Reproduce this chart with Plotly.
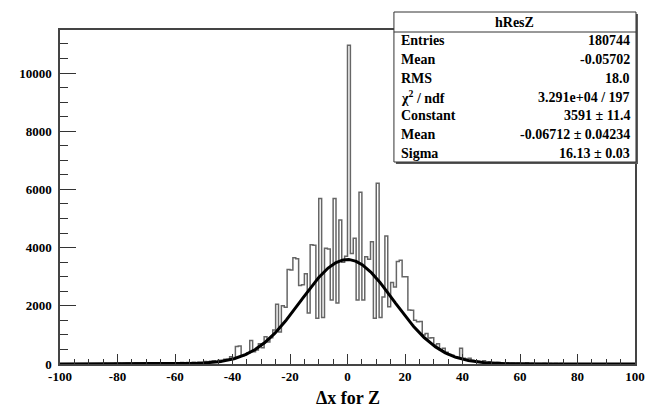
import plotly.graph_objects as go
import numpy as np

# ---- data ----
bin_low_edges = list(range(-100, 100))  # 200 bins of width 1
counts = [
    # -100 .. -61
    3, 5, 2, 8, 4, 6, 3, 10, 5, 7, 4, 9, 12, 6, 8, 15, 7, 11, 9, 14,
    18, 10, 13, 22, 16, 12, 25, 19, 14, 28, 21, 17, 30, 24, 20, 35, 26, 31, 22, 38,
    # -60 .. -46
    42, 30, 48, 36, 55, 40, 62, 50, 70, 58, 85, 66, 95, 110, 80,
    # -45 .. -31
    130, 105, 160, 140, 250, 190, 600, 620, 280, 330, 380, 810, 420, 480, 700,
    # -30 .. -1
    560, 940, 760, 900, 1170, 2050, 1100, 2000, 1950, 3250,
    3230, 3650, 3620, 2700, 2720, 3100, 1750, 4100, 4080, 1570,
    5690, 1600, 3980, 3950, 2200, 5690, 2100, 4950, 3500, 3700,
    # 0 .. 49
    10960, 3800, 4320, 2200, 5900, 2200, 3690, 3600, 4200, 1570,
    6210, 1600, 2300, 4400, 1970, 2800, 2650, 3520, 3570, 3000,
    3000, 1860, 1850, 1500, 1450, 1460, 1000, 1050, 890, 900,
    650, 700, 480, 540, 400, 330, 300, 250, 220, 540,
    200, 170, 200, 130, 110, 95, 70, 110, 60, 75,
    # 50 .. 99
    55, 48, 62, 40, 35, 46, 30, 38, 26, 33, 22, 28, 40, 19, 24, 17, 21, 15, 30, 13,
    18, 11, 16, 10, 14, 8, 12, 9, 7, 11, 6, 9, 5, 8, 4, 7, 3, 6, 5, 4,
    3, 6, 2, 4, 3, 5, 2, 3, 1, 2,
]
bin_width = 1

# fit parameters (from stats box)
fit_constant = 3591
fit_mean = -0.06712
fit_sigma = 16.13

stats_title = "hResZ"
stats_labels = ["Entries", "Mean", "RMS", "χ<sup>2</sup> / ndf", "Constant", "Mean", "Sigma"]
stats_values = ["180744", "-0.05702", "18.0", "3.291e+04 / 197", "3591 ± 11.4",
                "-0.06712 ± 0.04234", "16.13 ± 0.03"]

x_tick_vals = [-100, -80, -60, -40, -20, 0, 20, 40, 60, 80, 100]
x_tick_text = ["-100", "-80", "-60", "-40", "-20", "0", "20", "40", "60", "80", "100"]
y_tick_vals = [0, 2000, 4000, 6000, 8000, 10000]
y_tick_text = ["0", "2000", "4000", "6000", "8000", "10000"]

# ---- figure ----
W, H = 657, 409
ml, mr, mt, mb = 60, 15, 30, 45
pw, ph = W - ml - mr, H - mt - mb

edges = bin_low_edges + [bin_low_edges[-1] + bin_width]
step_y = counts + [counts[-1]]

fig = go.Figure()
fig.add_trace(go.Scatter(x=edges, y=step_y, mode="lines", line=dict(shape="hv", color="#666666", width=1.5),
                         hoverinfo="skip"))

xf = np.linspace(-100, 100, 801)
yf = fit_constant * np.exp(-0.5 * ((xf - fit_mean) / fit_sigma) ** 2)
fig.add_trace(go.Scatter(x=xf, y=yf, mode="lines", line=dict(color="black", width=3), hoverinfo="skip"))

tickfont = dict(family="Liberation Serif", size=13, color="black", weight="bold")
fig.update_xaxes(range=[-100, 100], tickvals=x_tick_vals, ticktext=x_tick_text, ticks="inside", ticklen=10,
                 tickwidth=1, tickcolor="#333", showline=True, mirror=True, linecolor="#444", linewidth=1.5,
                 showgrid=False, zeroline=False, tickfont=tickfont,
                 minor=dict(dtick=5, ticks="inside", ticklen=5, tickcolor="#333", showgrid=False))
fig.update_yaxes(range=[0, 11480], tickvals=y_tick_vals, ticktext=y_tick_text, ticks="inside", ticklen=16,
                 tickwidth=1, tickcolor="#333", showline=True, mirror=True, linecolor="#444", linewidth=1.5,
                 showgrid=False, zeroline=False, tickfont=tickfont, ticklabelstandoff=4,
                 minor=dict(dtick=500, ticks="inside", ticklen=8, tickcolor="#333", showgrid=False))

def px_x(p):
    return (p - ml) / pw

def px_y(p):
    return (H - mb - p) / ph

shapes = []
bx0, bx1, by0, by1 = 398, 643, 162, 12
shapes.append(dict(type="rect", xref="paper", yref="paper", x0=px_x(bx0 + 2), x1=px_x(bx1 + 2),
                   y0=px_y(by0 + 2), y1=px_y(by1 + 2), fillcolor="#555", line=dict(width=0), layer="above"))
shapes.append(dict(type="rect", xref="paper", yref="paper", x0=px_x(bx0), x1=px_x(bx1),
                   y0=px_y(by0), y1=px_y(by1), fillcolor="white", line=dict(color="#333", width=1),
                   layer="above"))
shapes.append(dict(type="line", xref="paper", yref="paper", x0=px_x(bx0), x1=px_x(bx1),
                   y0=px_y(32), y1=px_y(32), line=dict(color="#333", width=1), layer="above"))

annotations = []
sfont = dict(family="Liberation Serif", size=14, color="black", weight="bold")
annotations.append(dict(text=stats_title, xref="paper", yref="paper", x=px_x((bx0 + bx1) / 2), y=px_y(22),
                        xanchor="center", yanchor="middle", showarrow=False, font=sfont))
for i, (lab, val) in enumerate(zip(stats_labels, stats_values)):
    yy = px_y(41 + i * 18.7)
    annotations.append(dict(text=lab, xref="paper", yref="paper", x=px_x(403), y=yy, xanchor="left",
                            yanchor="middle", showarrow=False, font=sfont))
    annotations.append(dict(text=val, xref="paper", yref="paper", x=px_x(639), y=yy, xanchor="right",
                            yanchor="middle", showarrow=False, font=sfont))
annotations.append(dict(text="Δx for Z", xref="paper", yref="paper", x=0.5, y=px_y(398), xanchor="center",
                        yanchor="middle", showarrow=False,
                        font=dict(family="Liberation Serif", size=18, color="black", weight="bold")))

fig.update_layout(width=W, height=H, margin=dict(l=ml, r=mr, t=mt, b=mb), paper_bgcolor="white",
                  plot_bgcolor="white", showlegend=False, shapes=shapes, annotations=annotations)

fig.write_html("out.html")
